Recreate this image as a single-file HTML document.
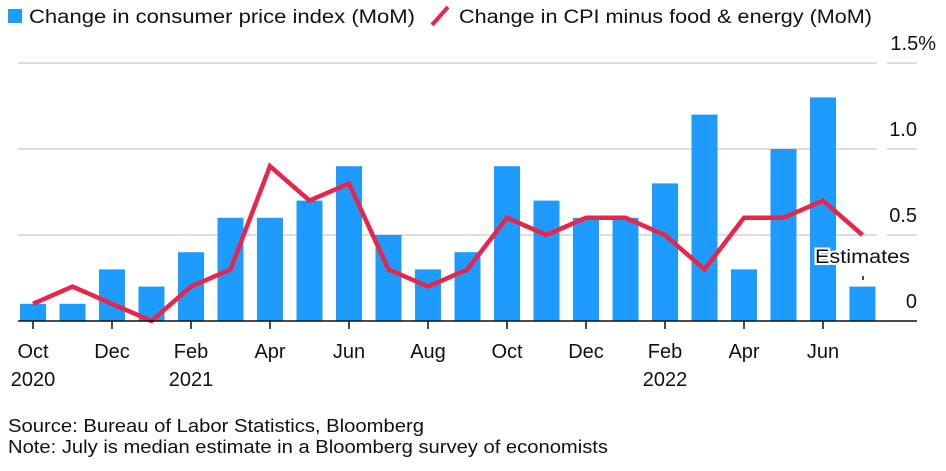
<!DOCTYPE html>
<html><head><meta charset="utf-8"><style>
body{margin:0;background:#fff;font-family:"Liberation Sans",sans-serif}
svg text{font-family:"Liberation Sans",sans-serif}
</style></head><body>
<svg width="946" height="466">
<g>
<rect x="8" y="9" width="14" height="14" fill="#1e9bff"/>
<text x="29" y="23" font-size="19" textLength="386" lengthAdjust="spacingAndGlyphs" fill="#111">Change in consumer price index (MoM)</text>
<line x1="432" y1="25" x2="448" y2="7" stroke="#e8254a" stroke-width="4"/>
<text x="459" y="23" font-size="19" textLength="413" lengthAdjust="spacingAndGlyphs" fill="#111">Change in CPI minus food &amp; energy (MoM)</text>
</g>
<g id="grid"></g><g id="bars"></g><g id="line"></g><g id="axis"></g>
<text x="815" y="263" font-size="19" textLength="95" lengthAdjust="spacingAndGlyphs" fill="#111" stroke="#fff" stroke-width="4" paint-order="stroke">Estimates</text>
<line x1="863" y1="276" x2="863" y2="280" stroke="#111" stroke-width="1.5"/>
<text x="8" y="432" font-size="18" textLength="416" lengthAdjust="spacingAndGlyphs" fill="#111">Source: Bureau of Labor Statistics, Bloomberg</text>
<text x="8" y="453" font-size="18" textLength="600" lengthAdjust="spacingAndGlyphs" fill="#111">Note: July is median estimate in a Bloomberg survey of economists</text>
</svg>
<script>
const months=["Oct 2020","Nov 2020","Dec 2020","Jan 2021","Feb 2021","Mar 2021","Apr 2021","May 2021","Jun 2021","Jul 2021","Aug 2021","Sep 2021","Oct 2021","Nov 2021","Dec 2021","Jan 2022","Feb 2022","Mar 2022","Apr 2022","May 2022","Jun 2022","Jul 2022"];
const cpi=[0.1,0.1,0.3,0.2,0.4,0.6,0.6,0.7,0.9,0.5,0.3,0.4,0.9,0.7,0.6,0.6,0.8,1.2,0.3,1.0,1.3,0.2];
const core=[0.1,0.2,0.1,0.0,0.2,0.3,0.9,0.7,0.8,0.3,0.2,0.3,0.6,0.5,0.6,0.6,0.5,0.3,0.6,0.6,0.7,0.5];
const yTicks=[0,0.5,1.0,1.5];
const yTickLabels=["0","0.5","1.0","1.5%"];
const xLabels=[["Oct","2020"],null,["Dec",""],null,["Feb","2021"],null,["Apr",""],null,["Jun",""],null,["Aug",""],null,["Oct",""],null,["Dec",""],null,["Feb","2022"],null,["Apr",""],null,["Jun",""],null];
const NS="http://www.w3.org/2000/svg";
const x=i=>33+i*39.5;
const y=v=>321-v*172;
function mk(t,a,p){const e=document.createElementNS(NS,t);for(const k in a)e.setAttribute(k,a[k]);p.appendChild(e);return e;}
const grid=document.getElementById('grid');
yTicks.forEach((v,i)=>{
 if(v>0){
  const g1=mk('line',{x1:18,x2:877,y1:y(v),y2:y(v),stroke:'#ddd','stroke-width':2},grid);
  
  
  const g2=mk('line',{x1:887,x2:917,y1:y(v),y2:y(v),stroke:'#ddd','stroke-width':2},grid);
  
  
 }
 const t=mk('text',{x:917,y:y(v)-13,'font-size':20,fill:'#111','text-anchor':'end'},grid);
 if(i===3){t.setAttribute('x',936);}
 t.textContent=yTickLabels[i];
 
 
});
const bars=document.getElementById('bars');
cpi.forEach((v,i)=>{
 const r=mk('rect',{x:x(i)-13,y:y(v),width:26,height:y(0)-y(v),fill:'#1e9bff'},bars);
 
 
});
const pl=mk('polyline',{points:core.map((v,i)=>x(i)+','+y(v)).join(' '),fill:'none',stroke:'#e8254a','stroke-width':4.5,'stroke-linejoin':'miter'},document.getElementById('line'));


const ax=document.getElementById('axis');
const base=mk('line',{x1:18,x2:917,y1:y(0),y2:y(0),stroke:'#111','stroke-width':1.5},ax);


xLabels.forEach((l,i)=>{
 if(!l)return;
 const tk=mk('line',{x1:x(i),x2:x(i),y1:y(0),y2:y(0)+8,stroke:'#111','stroke-width':1.5},ax);
 
 
 const t=mk('text',{x:x(i),y:358,'font-size':20,fill:'#111','text-anchor':'middle'},ax);
 t.textContent=l[0];
 
 
 if(l[1]){
  const t2=mk('text',{x:x(i),y:386,'font-size':20,fill:'#111','text-anchor':'middle'},ax);
  t2.textContent=l[1];
  
  
 }
});
</script>
</body></html>
